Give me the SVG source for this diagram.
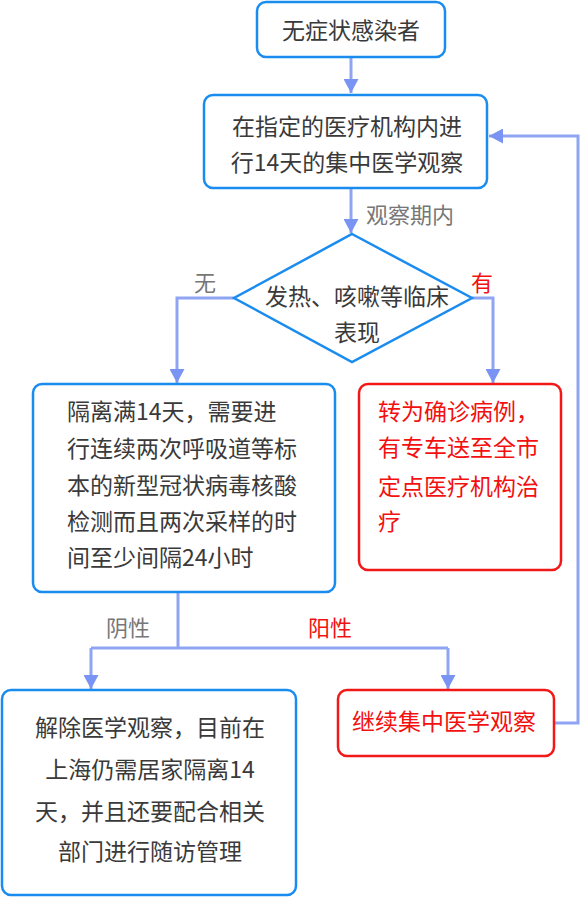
<svg xmlns="http://www.w3.org/2000/svg" width="580" height="897" viewBox="0 0 580 897">
<defs>
<style>
.box{fill:#fff;stroke-width:2.5}
.blue{stroke:#1a8cf0}
.red{stroke:#f21818}
.t{font-family:"Noto Sans CJK SC","Noto Sans",sans-serif;font-size:23px;fill:#3a3a3a}
.tr{font-family:"Noto Sans CJK SC","Noto Sans",sans-serif;font-size:23px;fill:#f21010}
.lbl{font-family:"Noto Sans CJK SC","Noto Sans",sans-serif;font-size:22px;fill:#777}
.lblr{font-family:"Noto Sans CJK SC","Noto Sans",sans-serif;font-size:22px;fill:#f21010}
.c{fill:none;stroke:#8fa5f4;stroke-width:3}
</style>
<marker id="ah" markerWidth="14" markerHeight="15" refX="14" refY="7.5" orient="auto" markerUnits="userSpaceOnUse">
<path d="M0,0 L14,7.5 L0,15 Z" fill="#7a94f4"/>
</marker>
</defs>
<rect width="580" height="897" fill="#fff"/>
<g id="connectors">
<path class="c" d="M351,57 V93" marker-end="url(#ah)"/>
<path class="c" d="M351,188 V233" marker-end="url(#ah)"/>
<path class="c" d="M234,298 H177 V383" marker-end="url(#ah)"/>
<path class="c" d="M472,298 H493 V383" marker-end="url(#ah)"/>
<path class="c" d="M178,592 V648 M91,648 H448"/>
<path class="c" d="M91,648 V689" marker-end="url(#ah)"/>
<path class="c" d="M448,648 V689" marker-end="url(#ah)"/>
<path class="c" d="M554,723 H578 V136 H489" marker-end="url(#ah)"/>
<text class="lbl" x="366" y="223">观察期内</text>
<text class="lbl" x="194" y="291">无</text>
<text class="lblr" x="471" y="291">有</text>
<text class="lbl" x="106" y="636">阴性</text>
<text class="lblr" x="308" y="636">阳性</text>
</g>
<g id="n1">
<rect class="box blue" x="257" y="2" width="188" height="55" rx="9"/>
<text class="t" x="351" y="39" text-anchor="middle">无症状感染者</text>
</g>
<g id="n2">
<rect class="box blue" x="204" y="95" width="283" height="93" rx="9"/>
<text class="t" x="347" y="135" text-anchor="middle">在指定的医疗机构内进</text>
<text class="t" x="347" y="171" text-anchor="middle">行14天的集中医学观察</text>
</g>
<g id="n3">
<path class="box blue" d="M352,234 L472,298 L352,362 L234,298 Z"/>
<text class="t" x="357" y="305" text-anchor="middle">发热、咳嗽等临床</text>
<text class="t" x="357" y="341" text-anchor="middle">表现</text>
</g>
<g id="n4">
<rect class="box blue" x="33" y="384" width="302" height="208" rx="9"/>
<text class="t" x="67" y="420">隔离满14天，需要进</text>
<text class="t" x="67" y="457">行连续两次呼吸道等标</text>
<text class="t" x="67" y="494">本的新型冠状病毒核酸</text>
<text class="t" x="67" y="530">检测而且两次采样的时</text>
<text class="t" x="67" y="566">间至少间隔24小时</text>
</g>
<g id="n5">
<rect class="box red" x="359" y="384" width="202" height="186" rx="9"/>
<text class="tr" x="378" y="420">转为确诊病例，</text>
<text class="tr" x="378" y="456">有专车送至全市</text>
<text class="tr" x="378" y="495">定点医疗机构治</text>
<text class="tr" x="378" y="530">疗</text>
</g>
<g id="n6">
<rect class="box blue" x="2" y="690" width="294" height="205" rx="9"/>
<text class="t" x="150" y="736" text-anchor="middle">解除医学观察，目前在</text>
<text class="t" x="150" y="778" text-anchor="middle">上海仍需居家隔离14</text>
<text class="t" x="150" y="820" text-anchor="middle">天，并且还要配合相关</text>
<text class="t" x="150" y="860" text-anchor="middle">部门进行随访管理</text>
</g>
<g id="n7">
<rect class="box red" x="338" y="690" width="216" height="66" rx="9"/>
<text class="tr" x="444" y="730" text-anchor="middle">继续集中医学观察</text>
</g>
</svg>
